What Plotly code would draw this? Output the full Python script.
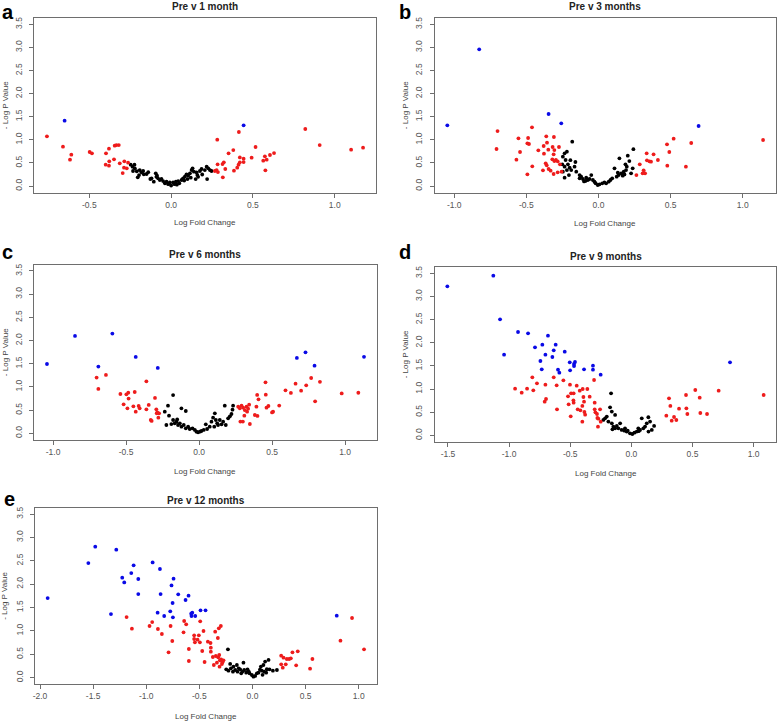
import plotly.graph_objects as go

W, H = 778, 721

# ---------------- data ----------------
# Panel a: Pre v 1 month
a_blue_x = [-0.651, 0.443]
a_blue_y = [1.414, 1.313]
a_red_x = [-0.759, -0.661, -0.610, -0.618, -0.498, -0.484, -0.380, -0.398, -0.345, -0.335, -0.320,
           -0.349, -0.378, -0.400, -0.380, -0.314, -0.286, -0.263, -0.288, -0.271, -0.296,
           0.282, 0.414, 0.820, 0.908, 1.100, 1.173, 0.516, 0.629, 0.604, 0.573, 0.584, 0.563,
           0.576, 0.492, 0.443, 0.420, 0.380, 0.351, 0.420, 0.412, 0.443, 0.404, 0.384, 0.322,
           0.314, 0.331, 0.284, 0.278, 0.267, 0.286, 0.316]
a_red_y = [1.075, 0.851, 0.678, 0.570, 0.736, 0.707, 0.808, 0.707, 0.873, 0.887, 0.887,
           0.577, 0.534, 0.462, 0.440, 0.491, 0.534, 0.505, 0.397, 0.382, 0.281,
           1.003, 1.169, 1.234, 0.887, 0.786, 0.830, 0.844, 0.714, 0.671, 0.642, 0.570, 0.548,
           0.339, 0.613, 0.592, 0.620, 0.779, 0.707, 0.512, 0.462, 0.519, 0.397, 0.332, 0.512,
           0.476, 0.368, 0.469, 0.346, 0.325, 0.303, 0.188]
a_black_x = [-0.247, -0.224, -0.236, -0.222, -0.233, -0.192, -0.181, -0.171, -0.196, -0.167, -0.204,
             -0.127, -0.120, -0.094, -0.086, -0.080, -0.069, -0.059, -0.049, -0.038, -0.028, -0.018,
             -0.008, 0.000, 0.012, 0.020, 0.029, 0.043, 0.050, 0.064, 0.073, 0.084, 0.094, 0.104,
             0.115, 0.125, 0.131, 0.139, 0.150, 0.155, 0.165, 0.176, 0.186, 0.190, 0.206, 0.217,
             0.220, 0.227, 0.237, 0.247, -0.106, -0.140, -0.150, -0.210, -0.090, 0.035, 0.080,
             0.100, 0.120, 0.160]
a_black_y = [0.462, 0.462, 0.418, 0.383, 0.325, 0.346, 0.296, 0.325, 0.238, 0.253, 0.188,
             0.152, 0.166, 0.274, 0.224, 0.166, 0.130, 0.152, 0.108, 0.060, 0.094, 0.040,
             0.079, 0.010, 0.079, 0.040, 0.094, 0.108, 0.060, 0.130, 0.166, 0.202, 0.253, 0.224,
             0.274, 0.346, 0.383, 0.310, 0.150, 0.296, 0.200, 0.325, 0.368, 0.250, 0.346, 0.418,
             0.150, 0.383, 0.346, 0.325, 0.094, 0.300, 0.260, 0.320, 0.200, 0.030, 0.120,
             0.150, 0.180, 0.240]

# Panel b: Pre v 3 months
b_blue_x = [-1.048, -0.827, -0.346, -0.258, 0.694]
b_blue_y = [1.313, 2.958, 1.558, 1.356, 1.299]
b_red_x = [-0.700, -0.707, -0.569, -0.555, -0.544, -0.461, -0.493, -0.482, -0.488, -0.459, -0.493,
           -0.417, -0.380, -0.378, -0.385, -0.362, -0.357, -0.348, -0.366, -0.359, -0.346, -0.332,
           -0.318, -0.311, -0.309, -0.306, -0.320, -0.306, -0.295, -0.283, -0.311, -0.283, -0.274,
           -0.267, -0.256,
           0.263, 0.286, 0.306, 0.313, 0.323, 0.334, 0.336, 0.353, 0.364, 0.382, 0.412, 0.475,
           0.477, 0.491, 0.521, 0.606, 0.643, 1.141]
b_red_y = [1.190, 0.801, 0.570, 1.032, 0.736, 1.270, 0.924, 0.909, 1.039, 0.426, 0.253,
           0.772, 0.866, 0.700, 0.339, 1.075, 0.938, 0.786, 0.491, 0.447, 0.368, 0.332,
           0.844, 0.685, 1.061, 0.779, 0.577, 0.541, 0.563, 0.534, 0.260, 0.296, 0.844,
           0.469, 0.310,
           0.238, 0.469, 0.274, 0.339, 0.274, 0.707, 0.556, 0.534, 0.527, 0.685, 0.563, 0.902,
           0.440, 0.736, 1.025, 0.418, 0.931, 0.996]
b_black_x = [-0.182, -0.235, -0.219, -0.247, -0.228, -0.251, -0.212, -0.235, -0.200, -0.219, -0.189,
             -0.166, -0.154, -0.247, -0.205, -0.235, -0.131, -0.120, -0.108, -0.085, -0.074, -0.062,
             -0.050, -0.039, -0.028, -0.005, 0.007, 0.026, 0.041, 0.053, 0.071, 0.083, 0.095,
             0.111, 0.126, 0.140, 0.145, 0.157, 0.168, 0.175, 0.187, 0.191, 0.196, 0.203, 0.214,
             0.226, 0.237, 0.242, 0.180, 0.134, -0.131, -0.100, -0.090, -0.020, -0.160, -0.195]
b_black_y = [0.959, 0.707, 0.743, 0.635, 0.563, 0.469, 0.469, 0.418, 0.397, 0.346, 0.346,
             0.418, 0.310, 0.310, 0.238, 0.180, 0.238, 0.202, 0.152, 0.180, 0.130, 0.152,
             0.238, 0.130, 0.094, 0.022, 0.036, 0.058, 0.079, 0.058, 0.094, 0.130, 0.166,
             0.382, 0.202, 0.238, 0.599, 0.274, 0.224, 0.310, 0.469, 0.346, 0.418, 0.657, 0.541,
             0.274, 0.382, 0.798, 0.252, 0.288, 0.166, 0.100, 0.110, 0.060, 0.520, 0.560]

# Panel c: Pre v 6 months
c_blue_x = [-1.042, -0.850, -0.594, -0.690, -0.434, -0.283, 0.670, 0.729, 0.791, 1.130]
c_blue_y = [1.495, 2.099, 2.150, 1.438, 1.646, 1.409, 1.625, 1.747, 1.459, 1.650]
c_red_x = [-0.702, -0.638, -0.690, -0.539, -0.485, -0.498, -0.441, -0.361, -0.302, -0.517, -0.491,
           -0.483, -0.450, -0.434, -0.414, -0.407, -0.361, -0.345, -0.331, -0.325, -0.293, -0.286,
           -0.274, -0.279, -0.290,
           0.268, 0.279, 0.291, 0.302, 0.313, 0.325, 0.329, 0.336, 0.343, 0.283, 0.300, 0.310,
           0.348, 0.382, 0.400, 0.393, 0.398, 0.407, 0.455, 0.457, 0.462, 0.475, 0.507, 0.500,
           0.549, 0.592, 0.629, 0.661, 0.699, 0.734, 0.768, 0.828, 0.795, 0.977, 1.091]
c_red_y = [1.201, 1.258, 0.956, 0.848, 0.877, 0.841, 0.891, 1.121, 0.762, 0.625, 0.539,
           0.748, 0.582, 0.467, 0.589, 0.539, 0.518, 0.611, 0.288, 0.266, 0.518, 0.453,
           0.431, 0.338, 0.430,
           0.574, 0.539, 0.595, 0.552, 0.502, 0.574, 0.466, 0.531, 0.617, 0.252, 0.252, 0.380,
           0.201, 0.395, 0.375, 0.574, 0.827, 0.733, 1.100, 0.832, 0.553, 0.589, 0.467, 0.450,
           0.597, 0.927, 0.870, 1.071, 0.920, 1.035, 1.193, 1.110, 0.690, 0.860, 0.875]
c_black_x = [-0.178, -0.213, -0.121, -0.091, -0.235, -0.206, -0.224, -0.178, -0.167, -0.155, -0.144,
             -0.132, -0.121, -0.105, -0.091, -0.075, -0.064, -0.045, -0.029, -0.018, -0.007, 0.005,
             0.016, 0.032, 0.046, 0.055, 0.073, 0.085, 0.096, 0.108, 0.115, 0.124, 0.130, 0.142,
             0.154, 0.165, 0.176, 0.183, 0.199, 0.211, 0.222, 0.229, 0.233, 0.104, -0.150, -0.190]
c_black_y = [0.825, 0.595, 0.539, 0.481, 0.466, 0.380, 0.179, 0.287, 0.216, 0.251, 0.179,
             0.216, 0.143, 0.179, 0.107, 0.143, 0.093, 0.107, 0.072, 0.036, 0.022, 0.036,
             0.050, 0.072, 0.193, 0.093, 0.143, 0.251, 0.337, 0.430, 0.287, 0.216, 0.179, 0.287,
             0.193, 0.251, 0.595, 0.179, 0.323, 0.366, 0.416, 0.509, 0.595, 0.143, 0.300, 0.200]

# Panel d: Pre v 9 months
d_blue_x = [-1.505, -1.129, -1.074, -1.041, -0.927, -0.845, -0.788, -0.682, -0.728, -0.744, -0.733,
            -0.703, -0.646, -0.635, -0.619, -0.600, -0.589, -0.545, -0.504, -0.501, -0.469, -0.461,
            -0.469, -0.387, -0.314, -0.314, -0.251, 0.807]
d_blue_y = [3.218, 3.449, 2.505, 1.742, 2.232, 2.203, 1.901, 2.153, 1.958, 1.605, 1.425,
            1.742, 1.692, 1.836, 1.958, 1.418, 1.354, 1.807, 1.577, 1.404, 1.541, 1.584,
            1.497, 1.425, 1.505, 1.418, 1.310, 1.577]
d_red_x = [-0.951, -0.897, -0.853, -0.802, -0.810, -0.772, -0.703, -0.709, -0.698, -0.635, -0.611,
           -0.608, -0.556, -0.518, -0.502, -0.513, -0.496, -0.493, -0.472, -0.474, -0.472, -0.447,
           -0.439, -0.422, -0.417, -0.398, -0.401, -0.392, -0.387, -0.384, -0.378, -0.360, -0.341,
           -0.305, -0.300, -0.300, -0.294, -0.281, -0.278, -0.270, -0.273, -0.256, -0.251, -0.401,
           0.286, 0.308, 0.319, 0.330, 0.349, 0.368, 0.390, 0.447, 0.450, 0.458, 0.523, 0.559,
           0.564, 0.619, 0.714, 1.082]
d_red_y = [1.008, 0.922, 1.008, 0.972, 1.253, 1.123, 1.094, 0.727, 0.785, 1.253, 1.080,
           0.562, 1.188, 0.842, 1.094, 0.670, 0.410, 0.907, 0.907, 0.756, 0.706, 1.073,
           0.562, 0.965, 0.540, 1.001, 0.634, 0.828, 0.727, 0.504, 0.446, 1.001, 0.835,
           1.195, 0.706, 0.562, 0.497, 0.461, 0.374, 0.360, 0.187, 0.562, 0.295, 0.295,
           0.425, 0.799, 0.634, 0.317, 0.396, 0.331, 0.576, 0.871, 0.583, 0.461, 0.979, 0.814,
           0.482, 0.461, 0.965, 0.871]
d_black_x = [-0.166, -0.174, -0.160, -0.133, -0.215, -0.201, -0.229, -0.188, -0.160, -0.147, -0.133,
             -0.155, -0.119, -0.092, -0.106, -0.079, -0.057, -0.038, -0.011, 0.008, 0.025, 0.044,
             0.057, 0.071, 0.085, 0.098, 0.112, 0.126, 0.139, 0.153, 0.167, 0.186, -0.052, 0.060,
             -0.030, 0.140]
d_black_y = [0.907, 0.605, 0.512, 0.440, 0.368, 0.404, 0.332, 0.296, 0.260, 0.188, 0.152,
             0.130, 0.202, 0.260, 0.152, 0.116, 0.101, 0.080, 0.044, 0.029, 0.058, 0.080,
             0.152, 0.116, 0.368, 0.152, 0.188, 0.260, 0.390, 0.296, 0.116, 0.202, 0.152, 0.090,
             0.100, 0.080]

# Panel e: Pre v 12 months
e_blue_x = [-1.928, -1.545, -1.480, -1.282, -1.332, -1.226, -1.207, -1.141, -1.119, -1.075, -1.075,
            -0.940, -0.893, -0.871, -0.865, -0.831, -0.774, -0.762, -0.752, -0.743, -0.749, -0.699,
            -0.630, -0.602, -0.577, -0.574, -0.567, -0.539, -0.489, -0.442, 0.793]
e_blue_y = [1.703, 2.452, 2.801, 2.737, 1.361, 2.138, 2.038, 2.238, 2.402, 2.110, 1.789,
            2.466, 1.390, 2.324, 1.789, 1.319, 1.418, 1.974, 1.597, 2.117, 1.290, 1.782,
            1.661, 1.753, 1.368, 1.319, 1.390, 1.319, 1.440, 1.440, 1.326]
e_red_x = [-1.185, -1.135, -0.969, -0.944, -0.890, -0.853, -0.790, -0.771, -0.755, -0.649, -0.643,
           -0.624, -0.599, -0.599, -0.549, -0.549, -0.542, -0.517, -0.505, -0.495, -0.492, -0.473,
           -0.461, -0.451, -0.420, -0.395, -0.392, -0.392, -0.373, -0.364, -0.351, -0.345, -0.335,
           -0.326, -0.323, -0.317, -0.313, -0.307, -0.298, -0.295, -0.288, -0.282, -0.273, -0.310,
           0.270, 0.270, 0.292, 0.285, 0.313, 0.323, 0.345, 0.361, 0.376, 0.411, 0.426, 0.542,
           0.564, 0.828, 0.937, 1.050]
e_red_y = [1.297, 1.048, 1.105, 1.190, 1.041, 0.934, 0.542, 1.105, 0.784, 0.969, 1.212,
           1.140, 0.613, 0.356, 0.905, 0.827, 0.756, 0.813, 0.905, 0.756, 1.205, 0.570,
           0.998, 0.335, 0.770, 0.741, 0.641, 0.556, 0.442, 0.271, 0.984, 0.463, 0.321,
           0.848, 0.435, 1.055, 0.485, 0.371, 1.105, 0.392, 0.292, 0.328, 0.371, 0.235,
           0.470, 0.285, 0.428, 0.214, 0.285, 0.399, 0.399, 0.413, 0.542, 0.264, 0.563, 0.192,
           0.399, 0.791, 1.276, 0.606]
e_black_x = [-0.231, -0.247, -0.226, -0.210, -0.203, -0.179, -0.184, -0.163, -0.147, -0.141, -0.116,
             -0.106, -0.085, -0.078, -0.059, -0.047, -0.028, -0.006, 0.009, 0.025, 0.041, 0.056,
             0.079, 0.088, 0.103, 0.110, 0.119, 0.129, 0.151, 0.160, 0.192, 0.230, -0.130, -0.095,
             -0.035, 0.070, 0.095, 0.135]
e_black_y = [0.606, 0.179, 0.150, 0.293, 0.200, 0.236, 0.129, 0.164, 0.271, 0.129, 0.179,
             0.093, 0.321, 0.164, 0.107, 0.179, 0.093, 0.057, 0.021, 0.036, 0.093, 0.107,
             0.236, 0.150, 0.271, 0.129, 0.343, 0.107, 0.379, 0.179, 0.150, 0.164, 0.200, 0.130,
             0.130, 0.170, 0.060, 0.180]

titles = ["Pre v 1 month", "Pre v 3 months", "Pre v 6 months", "Pre v 9 months", "Pre v 12 months"]
letters = ["a", "b", "c", "d", "e"]
xtick_a = [-0.5, 0.0, 0.5, 1.0]
xtick_bc = [-1.0, -0.5, 0.0, 0.5, 1.0]
xtick_d = [-1.5, -1.0, -0.5, 0.0, 0.5, 1.0]
xtick_e = [-2.0, -1.5, -1.0, -0.5, 0.0, 0.5, 1.0]
ytick_vals = [0.0, 0.5, 1.0, 1.5, 2.0, 2.5, 3.0, 3.5]
x_label = "Log Fold Change"
y_label = "- Log P Value"

# ---------------- layout helpers ----------------
FONT = "Liberation Sans, Arial, sans-serif"
RED = "#ee1c1c"
BLUE = "#0a0ae6"
BLACK = "#000000"

# plot boxes in pixels: left, right, top, bottom
boxes = [
    (34.3, 375.7, 17.8, 192.5),
    (434.7, 775.7, 17.8, 192.5),
    (34.3, 376.7, 264.5, 439.8),
    (434.7, 776.3, 266.8, 441.8),
    (35.0, 376.7, 507.5, 684.2),
]
xticks = [xtick_a, xtick_bc, xtick_bc, xtick_d, xtick_e]
data = [
    (a_black_x, a_black_y, a_red_x, a_red_y, a_blue_x, a_blue_y),
    (b_black_x, b_black_y, b_red_x, b_red_y, b_blue_x, b_blue_y),
    (c_black_x, c_black_y, c_red_x, c_red_y, c_blue_x, c_blue_y),
    (d_black_x, d_black_y, d_red_x, d_red_y, d_blue_x, d_blue_y),
    (e_black_x, e_black_y, e_red_x, e_red_y, e_blue_x, e_blue_y),
]
title_y = [7, 7, 254, 256, 500]
letter_pos = [(7.5, 12), (405, 12), (7.5, 252), (405, 252), (9, 499)]
xlab_y = [223, 224, 471, 473, 716]
ylab_x = [5, 405, 5, 405, 5]


def fx(px):
    return px / W


def fy(py):
    return 1 - py / H


fig = go.Figure()
layout = dict(
    width=W, height=H, margin=dict(l=0, r=0, t=0, b=0, autoexpand=False),
    paper_bgcolor="white", plot_bgcolor="white", showlegend=False,
    font=dict(family=FONT, size=9, color="#444"),
)
annotations = []

for i in range(5):
    n = "" if i == 0 else str(i + 1)
    bx, by, rx, ry, ux, uy = data[i]
    for xs, ys, col in ((bx, by, BLACK), (rx, ry, RED), (ux, uy, BLUE)):
        fig.add_trace(go.Scatter(x=xs, y=ys, mode="markers", xaxis="x" + n, yaxis="y" + n,
                                 marker=dict(color=col, size=3.8, line=dict(width=0)),
                                 hoverinfo="x+y"))
    allx = bx + rx + ux
    lo, hi = min(allx), max(allx)
    pad = 0.04 * (hi - lo)
    L, R, T, B = boxes[i]
    ax_common = dict(showgrid=False, zeroline=False, showline=True, mirror=True,
                     linecolor="#6e6e6e", linewidth=1, ticks="outside", ticklen=4,
                     tickcolor="#6e6e6e", tickwidth=1,
                     tickfont=dict(family=FONT, size=8.5, color="#555"))
    layout["xaxis" + n] = dict(ax_common, domain=[fx(L), fx(R)], anchor="y" + n,
                               range=[lo - pad, hi + pad],
                               tickvals=xticks[i], ticktext=["%.1f" % v for v in xticks[i]])
    layout["yaxis" + n] = dict(ax_common, domain=[fy(B), fy(T)], anchor="x" + n,
                               range=[-0.14, 3.64], tickangle=-90, ticklabelstandoff=4,
                               tickvals=ytick_vals, ticktext=["%.1f" % v for v in ytick_vals])
    cx = (L + R) / 2
    annotations.append(dict(text="<b>%s</b>" % titles[i], x=fx(cx), y=fy(title_y[i]),
                            xref="paper", yref="paper", showarrow=False,
                            xanchor="center", yanchor="middle",
                            font=dict(family=FONT, size=10, color="#222")))
    lx, ly = letter_pos[i]
    annotations.append(dict(text="<b>%s</b>" % letters[i], x=fx(lx), y=fy(ly),
                            xref="paper", yref="paper", showarrow=False,
                            xanchor="center", yanchor="middle",
                            font=dict(family=FONT, size=20, color="#000")))
    annotations.append(dict(text=x_label, x=fx(cx), y=fy(xlab_y[i]),
                            xref="paper", yref="paper", showarrow=False,
                            xanchor="center", yanchor="middle",
                            font=dict(family=FONT, size=8, color="#444")))
    annotations.append(dict(text=y_label, x=fx(ylab_x[i]), y=fy((T + B) / 2),
                            xref="paper", yref="paper", showarrow=False, textangle=-90,
                            xanchor="center", yanchor="middle",
                            font=dict(family=FONT, size=8, color="#444")))

layout["annotations"] = annotations
fig.update_layout(**layout)
fig.write_html("out.html", config={"displayModeBar": False},
               post_script="document.body.style.margin='0';document.body.style.overflow='hidden';")
